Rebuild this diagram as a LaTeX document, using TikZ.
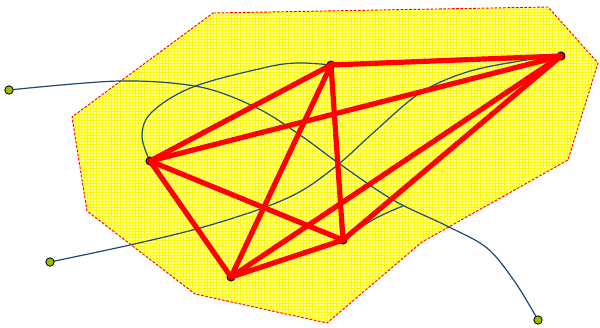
\documentclass[tikz,border=0pt]{standalone}
\usetikzlibrary{calc}
\pgfdeclarelayer{bg}
\pgfdeclarelayer{mid}
\pgfdeclarelayer{fg}
\pgfsetlayers{bg,mid,main,fg}
\definecolor{hullfill}{RGB}{255,255,150}
\definecolor{hullgrid}{RGB}{255,252,0}
\definecolor{curveblue}{RGB}{30,72,120}
\definecolor{dotgreen}{RGB}{150,190,0}
\tikzset{
  rednode/.style={circle,inner sep=0pt,minimum size=6pt,draw=black,line width=0.7pt,fill=red!85!black},
  greendot/.style={circle,inner sep=0pt,minimum size=6.3pt,draw=black,line width=0.6pt,fill=dotgreen},
  redge/.style={draw=red,line width=3.9pt},
  bcurve/.style={draw=curveblue,line width=0.9pt},
  hullborder/.style={draw=red,line width=0.7pt,dash pattern=on 2pt off 1.2pt}
}
\begin{document}
\begin{tikzpicture}[x=0.75pt,y=-0.75pt]
\useasboundingbox (0,0) rectangle (600,328);
% hull
\begin{pgfonlayer}{bg}
\def\hull{(213,13) -- (548,7) -- (598,63) -- (568,160) -- (422,242) -- (327,323) -- (195,294) -- (87,211) -- (72,117) -- cycle}
\fill[hullfill] \hull;
\begin{scope}
\clip \hull;
\draw[hullgrid,line width=0.5pt,step=2.25pt] (0,0) grid (600,328);
\end{scope}
\draw[hullborder] \hull;
\end{pgfonlayer}
% nodes
\node[greendot] (g1) at (9,90) {};
\node[greendot] (g2) at (50,262) {};
\node[greendot] (g3) at (538,320) {};
\node[rednode] (A) at (150,161) {};
\node[rednode] (B) at (331,65) {};
\node[rednode] (C) at (561,56) {};
\node[rednode] (D) at (343,240) {};
\node[rednode] (E) at (231,277) {};
\coordinate (j1) at (263,208);
\coordinate (j2) at (403,206);
% blue curves
\begin{pgfonlayer}{mid}
\draw[bcurve] plot[smooth,tension=0.55] coordinates {(g1.center) (120,81) (200,87) (257,108) (300,135) (337,162) (393,200) (447,226) (487,248) (515,282) (g3.center)};
\draw[bcurve] plot[smooth,tension=0.55] coordinates {(g2.center) (130,245) (200,228) (263,208) (303,190) (340,163) (373,133) (420,93) (467,72) (520,61) (C.center)};
\draw[bcurve] plot[smooth,tension=0.6] coordinates {(A.center) (142,136) (152,112) (193,87) (263,68) (297,63) (B.center)};
\draw[bcurve] (E.center) -- (j1);
\draw[bcurve] (D.center) to[bend left=8] (j2);
\end{pgfonlayer}
% red edges
\begin{pgfonlayer}{fg}
\foreach \u/\v in {A/B,A/C,A/D,A/E,B/C,B/D,B/E,C/D,C/E,D/E}
  \draw[redge] (\u.center) -- (\v.center);
\end{pgfonlayer}
\end{tikzpicture}
\end{document}
